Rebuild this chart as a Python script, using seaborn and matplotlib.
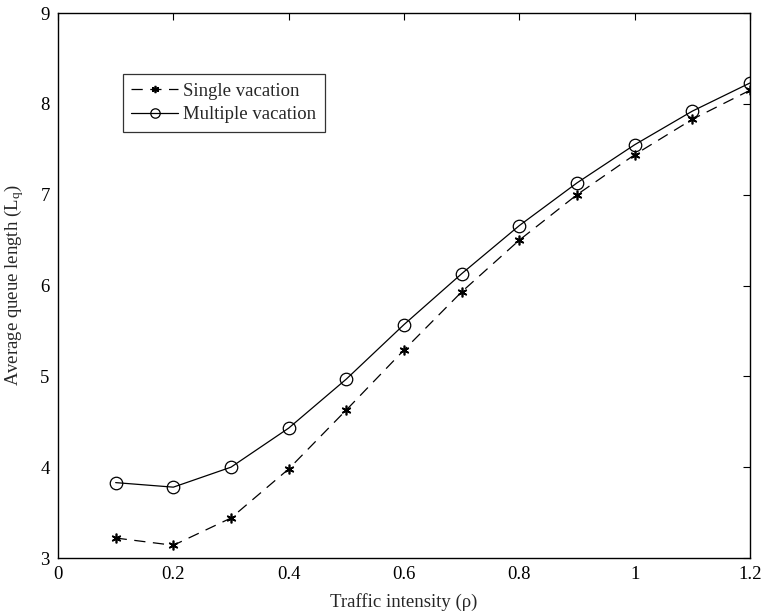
import matplotlib
matplotlib.use("Agg")
import matplotlib.pyplot as plt
import seaborn as sns
import pandas as pd

rho = [0.1, 0.2, 0.3, 0.4, 0.5, 0.6, 0.7, 0.8, 0.9, 1.0, 1.1, 1.2]
single_vacation = [3.22, 3.14, 3.44, 3.98, 4.63, 5.29, 5.93, 6.50, 7.00, 7.44, 7.83, 8.15]
multiple_vacation = [3.83, 3.78, 4.00, 4.43, 4.97, 5.57, 6.13, 6.66, 7.13, 7.55, 7.92, 8.23]
x_ticks = [0, 0.2, 0.4, 0.6, 0.8, 1.0, 1.2]
x_ticklabels = ["0", "0.2", "0.4", "0.6", "0.8", "1", "1.2"]
y_ticks = [3, 4, 5, 6, 7, 8, 9]

sns.set_style("white")
plt.rcParams["font.family"] = ["Liberation Serif", "DejaVu Serif"]
plt.rcParams["mathtext.fontset"] = "custom"
plt.rcParams["mathtext.rm"] = "Liberation Serif"
plt.rcParams["mathtext.it"] = "Liberation Serif:italic"

FS = 13.5
fig = plt.figure(figsize=(7.63, 6.14), dpi=100)
ax = fig.add_axes([0.076, 0.0912, 0.907, 0.8876])

df_s = pd.DataFrame({"x": rho, "y": single_vacation})
df_m = pd.DataFrame({"x": rho, "y": multiple_vacation})

sns.lineplot(data=df_s, x="x", y="y", ax=ax, color="black", linewidth=0.9,
             linestyle=(0, (9, 6)), marker=(6, 2, 0), markersize=7,
             markeredgewidth=1.2, markeredgecolor="black",
             label="Single vacation")
sns.lineplot(data=df_m, x="x", y="y", ax=ax, color="black", linewidth=0.9,
             marker="o", markersize=9, markerfacecolor="none",
             markeredgewidth=0.9, markeredgecolor="black",
             label="Multiple vacation")

ax.set_xlim(0, 1.2)
ax.set_ylim(3, 9)
ax.set_xticks(x_ticks)
ax.set_xticklabels(x_ticklabels)
ax.set_yticks(y_ticks)
ax.tick_params(direction="in", length=5, width=0.8, top=True, right=True,
               labelsize=FS, colors="black", pad=6)
for s in ax.spines.values():
    s.set_visible(True)
    s.set_color("black")
    s.set_linewidth(1.0)

ax.set_xlabel("Traffic intensity (\u03c1)", fontsize=FS, labelpad=7)
ax.set_ylabel("Average queue length (L$_\\mathrm{q}$)", fontsize=FS, labelpad=10)

leg = ax.legend(loc="upper left", bbox_to_anchor=(0.094, 0.888), fontsize=FS,
                frameon=True, fancybox=False, edgecolor="black",
                handlelength=2.5, handletextpad=0.25, borderpad=0.45,
                labelspacing=0.35, borderaxespad=0, markerscale=0.75)
leg.get_frame().set_linewidth(0.9)

fig.savefig("out.png", dpi=100)
